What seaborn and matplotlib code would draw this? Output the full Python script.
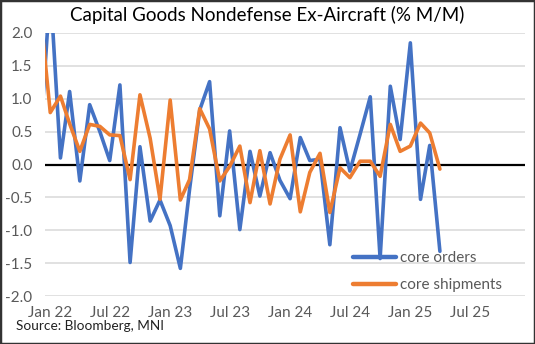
import matplotlib
matplotlib.use("Agg")
import matplotlib.pyplot as plt
import seaborn as sns
import pandas as pd
import numpy as np
from matplotlib.patches import Rectangle
from matplotlib.lines import Line2D

# ---- data (monthly, Dec 2021 .. Apr 2025) ----
months = pd.date_range("2021-12-01", "2025-04-01", freq="MS")
core_orders = [0.30, 2.70, 0.10, 1.11, -0.25, 0.91, 0.50, 0.06, 1.21, -1.49,
               0.27, -0.86, -0.54, -0.93, -1.58, -0.38, 0.83, 1.26, -0.78, 0.51,
               -0.99, 0.20, -0.48, 0.18, -0.24, -0.52, 0.41, 0.06, 0.08, -1.22,
               0.56, -0.10, 0.46, 1.03, -1.43, 1.19, 0.38, 1.85, -0.53, 0.29,
               -1.32]
core_shipments = [2.36, 0.79, 1.04, 0.62, 0.20, 0.61, 0.58, 0.45, 0.44, -0.23,
                  1.06, 0.40, -0.53, 0.98, -0.54, -0.23, 0.85, 0.54, -0.25, -0.03,
                  0.28, -0.58, 0.21, -0.60, 0.08, 0.45, -0.72, -0.12, 0.17, -0.73,
                  -0.05, -0.20, 0.05, 0.05, -0.18, 0.61, 0.20, 0.28, 0.63, 0.48,
                  -0.07]
series_names = ["core orders", "core shipments"]
colors = ["#4472C4", "#ED7D31"]
yticks = [2.0, 1.5, 1.0, 0.5, 0.0, -0.5, -1.0, -1.5, -2.0]
xtick_dates = pd.to_datetime(["2022-01-01", "2022-07-01", "2023-01-01", "2023-07-01",
                              "2024-01-01", "2024-07-01", "2025-01-01", "2025-07-01"])
xtick_labels = ["Jan 22", "Jul 22", "Jan 23", "Jul 23", "Jan 24", "Jul 24", "Jan 25", "Jul 25"]
title = "Capital Goods Nondefense Ex-Aircraft (% M/M)"
source = "Source: Bloomberg, MNI"

df = pd.DataFrame({
    "date": list(months) * 2,
    "value": core_orders + core_shipments,
    "series": [series_names[0]] * len(months) + [series_names[1]] * len(months),
})

sns.set_style("white")
plt.rcParams["font.family"] = ["Lato", "DejaVu Sans"]

W, H = 535, 344
fig = plt.figure(figsize=(W / 100, H / 100), dpi=100)
ax = fig.add_axes([45 / W, 1 - 296 / H, (525 - 45) / W, (296 - 33) / H])

for y in yticks:
    if y != 0:
        ax.axhline(y, color="#D9D9D9", lw=1.1, zorder=0)
ax.axhline(0, color="black", lw=1.6, zorder=1)

sns.lineplot(data=df, x="date", y="value", hue="series", palette=colors,
             hue_order=series_names, linewidth=2.6, ax=ax, legend=False, zorder=3)

ax.set_xlim(pd.Timestamp("2021-12-16"), pd.Timestamp("2025-12-16"))
ax.set_ylim(-2.0, 2.0)
ax.set_yticks(yticks)
ax.set_yticklabels([f"{v:.1f}" for v in yticks])
ax.set_xticks(xtick_dates)
ax.set_xticklabels(xtick_labels)
ax.tick_params(axis="both", length=0, labelsize=11, labelcolor="#595959")
ax.tick_params(axis="y", pad=9)
ax.tick_params(axis="x", pad=7)
ax.set_xlabel("")
ax.set_ylabel("")
for s in ax.spines.values():
    s.set_visible(False)

handles = [Line2D([], [], color=c, lw=3.2) for c in colors]
leg = ax.legend(handles, series_names, loc="upper left",
                bbox_to_anchor=(353 / W, 1 - 251 / H), bbox_transform=fig.transFigure,
                frameon=False, fontsize=11, handlelength=2.8, handletextpad=0.25,
                labelspacing=0.85, borderaxespad=0, borderpad=0)
for t in leg.get_texts():
    t.set_color("#595959")

fig.text(0.5, 1 - 15 / H, title, ha="center", va="center", fontsize=13.5, color="black")
fig.text(16 / W, 1 - 326 / H, source, ha="left", va="center", fontsize=9.8, color="#222222")

fig.patches.append(Rectangle((0, 0), 1, 1, transform=fig.transFigure, fill=False,
                             lw=2.5, edgecolor="#333333"))

fig.savefig("out.png", dpi=100)
